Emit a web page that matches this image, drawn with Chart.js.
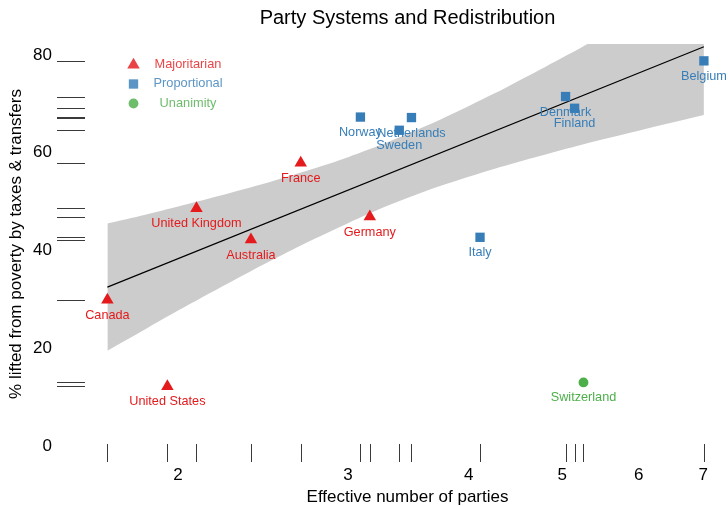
<!DOCTYPE html>
<html>
<head>
<meta charset="utf-8">
<title>Party Systems and Redistribution</title>
<script src="https://cdn.jsdelivr.net/npm/chart.js@4.4.1/dist/chart.umd.min.js"></script>
<style>
  html, body { margin: 0; padding: 0; background: #ffffff; }
  #wrap { width: 728px; height: 506px; }
</style>
</head>
<body>
<div id="wrap"><canvas id="chart" width="728" height="506"></canvas></div>
<script>
// Effective number of parties vs. % lifted from poverty, by electoral system
const majCountries  = ['Canada', 'United States', 'United Kingdom', 'Australia', 'France', 'Germany'];
const majParties    = [1.69, 1.95, 2.09, 2.38, 2.68, 3.16];
const majPoverty    = [29.9, 12.2, 48.6, 42.2, 57.9, 46.9];

const propCountries = ['Norway', 'Sweden', 'Netherlands', 'Italy', 'Denmark', 'Finland', 'Belgium'];
const propParties   = [3.09, 3.39, 3.49, 4.11, 5.04, 5.15, 7.01];
const propPoverty   = [67.3, 64.6, 67.2, 42.7, 71.5, 69.1, 78.8];

const unanCountries = ['Switzerland'];
const unanParties   = [5.26];
const unanPoverty   = [13.0];

// Fitted line (poverty on log parties) and its confidence band
const fitParties  = [1.69, 7.01];
const fitPoverty  = [32.5, 81.7];
const bandParties = [1.69, 1.85, 2.0, 2.25, 2.5, 2.75, 3.0, 3.32, 3.75, 4.25, 4.75, 5.25, 6.0, 7.01];
const bandUpper   = [45.5, 47.3, 49.0, 51.6, 54.1, 56.6, 59.1, 62.4, 66.9, 72.1, 77.1, 81.7, 88.1, 95.8];
const bandLower   = [19.5, 23.9, 27.7, 33.2, 38.0, 42.1, 45.6, 49.4, 53.3, 56.7, 59.4, 61.7, 64.5, 67.7];

// Axis ticks
const xTicks = [2, 3, 4, 5, 6, 7];
const yTicks = [0, 20, 40, 60, 80];

const legendNames = ['Majoritarian', 'Proportional', 'Unanimity'];

const RED = '#E41A1C', BLUE = '#377EB8', GREEN = '#4DAF4A';
const FONT = '"Liberation Sans", Arial, Helvetica, sans-serif';

const pts = (xs, ys) => xs.map((x, i) => ({ x: x, y: ys[i] }));

const groups = [
  { names: majCountries,  xs: majParties,  ys: majPoverty,  color: RED,   style: 'triangle', r: 7.2 },
  { names: propCountries, xs: propParties, ys: propPoverty, color: BLUE,  style: 'rect',     r: 6.6 },
  { names: unanCountries, xs: unanParties, ys: unanPoverty, color: GREEN, style: 'circle',   r: 4.9 }
];

// Rugs, point labels, legend and titles
const decor = {
  id: 'decor',
  afterDraw(chart) {
    const ctx = chart.ctx;
    const xs = chart.scales.x, ys = chart.scales.y;
    ctx.save();

    // rug marks on both axes
    ctx.strokeStyle = '#3a3a3a';
    ctx.lineWidth = 1;
    groups.forEach(g => {
      g.ys.forEach(v => {
        const py = Math.round(ys.getPixelForValue(v)) + 0.5;
        ctx.beginPath(); ctx.moveTo(57, py); ctx.lineTo(85, py); ctx.stroke();
      });
      g.xs.forEach(v => {
        const px = Math.round(xs.getPixelForValue(v)) + 0.5;
        ctx.beginPath(); ctx.moveTo(px, 444); ctx.lineTo(px, 462); ctx.stroke();
      });
    });

    // country labels under each marker
    ctx.font = '12.7px ' + FONT;
    ctx.textAlign = 'center';
    ctx.textBaseline = 'middle';
    groups.forEach(g => {
      ctx.fillStyle = g.color;
      g.names.forEach((n, i) => {
        const px = xs.getPixelForValue(g.xs[i]);
        const py = ys.getPixelForValue(g.ys[i]);
        ctx.fillText(n, px, py + 15.5);
      });
    });

    // legend
    const legendY = [65, 84, 103.5];
    const textY = [64, 83.5, 103.5];
    ctx.font = '12.8px ' + FONT;
    groups.forEach((g, i) => {
      ctx.globalAlpha = 0.82;
      ctx.fillStyle = g.color;
      ctx.strokeStyle = g.color;
      Chart.helpers.drawPoint(ctx, { pointStyle: g.style, radius: g.r, rotation: 0, borderWidth: 0 }, 133.5, legendY[i]);
      ctx.fillText(legendNames[i], 188, textY[i]);
    });
    ctx.globalAlpha = 1;

    // titles
    ctx.fillStyle = '#000';
    ctx.textBaseline = 'alphabetic';
    ctx.font = '20px ' + FONT;
    ctx.fillText('Party Systems and Redistribution', 407.5, 24);
    ctx.font = '17px ' + FONT;
    ctx.fillText('Effective number of parties', 407.5, 502);
    ctx.translate(21, 244);
    ctx.rotate(-Math.PI / 2);
    ctx.fillText('% lifted from poverty by taxes & transfers', 0, 0);
    ctx.restore();
  }
};

const pointSet = (g, label) => ({
  label: label,
  data: pts(g.xs, g.ys),
  pointStyle: g.style,
  pointRadius: g.r,
  pointBackgroundColor: g.color,
  pointBorderWidth: 0,
  pointHoverRadius: g.r,
  showLine: false,
  order: 0
});

new Chart(document.getElementById('chart'), {
  type: 'scatter',
  data: {
    datasets: [
      pointSet(groups[0], legendNames[0]),
      pointSet(groups[1], legendNames[1]),
      pointSet(groups[2], legendNames[2]),
      {
        label: 'fit',
        data: pts(fitParties, fitPoverty),
        showLine: true,
        borderColor: '#000',
        borderWidth: 1.2,
        pointRadius: 0,
        fill: false,
        order: 1
      },
      {
        label: 'upper',
        data: pts(bandParties, bandUpper),
        showLine: true,
        borderColor: 'rgba(0,0,0,0)',
        borderWidth: 0,
        pointRadius: 0,
        tension: 0.3,
        backgroundColor: '#CCCCCC',
        fill: '+1',
        order: 2
      },
      {
        label: 'lower',
        data: pts(bandParties, bandLower),
        showLine: true,
        borderColor: 'rgba(0,0,0,0)',
        borderWidth: 0,
        pointRadius: 0,
        tension: 0.3,
        fill: false,
        order: 3
      }
    ]
  },
  options: {
    responsive: false,
    animation: false,
    devicePixelRatio: 1,
    layout: { padding: { left: 0, top: 44, right: 13, bottom: 0 } },
    plugins: {
      legend: { display: false },
      tooltip: { enabled: false },
      title: { display: false }
    },
    events: [],
    scales: {
      x: {
        type: 'logarithmic',
        min: 1.6605,
        max: 7.198,
        grid: { display: false, drawTicks: false },
        border: { display: false },
        afterBuildTicks: s => { s.ticks = xTicks.map(v => ({ value: v })); },
        afterFit: s => { s.height = 60; s.paddingLeft = 0; s.paddingRight = 0; },
        ticks: {
          autoSkip: false,
          maxRotation: 0,
          padding: 19,
          color: '#000',
          font: { family: FONT, size: 17 },
          callback: v => String(v)
        }
      },
      y: {
        min: 0,
        max: 82.25,
        grid: { display: false, drawTicks: false },
        border: { display: false },
        afterBuildTicks: s => { s.ticks = yTicks.map(v => ({ value: v })); },
        afterFit: s => { s.width = 100; s.paddingTop = 0; s.paddingBottom = 0; },
        ticks: {
          padding: 48,
          color: '#000',
          font: { family: FONT, size: 17 },
          callback: v => String(v)
        }
      }
    }
  },
  plugins: [decor]
});
</script>
</body>
</html>
